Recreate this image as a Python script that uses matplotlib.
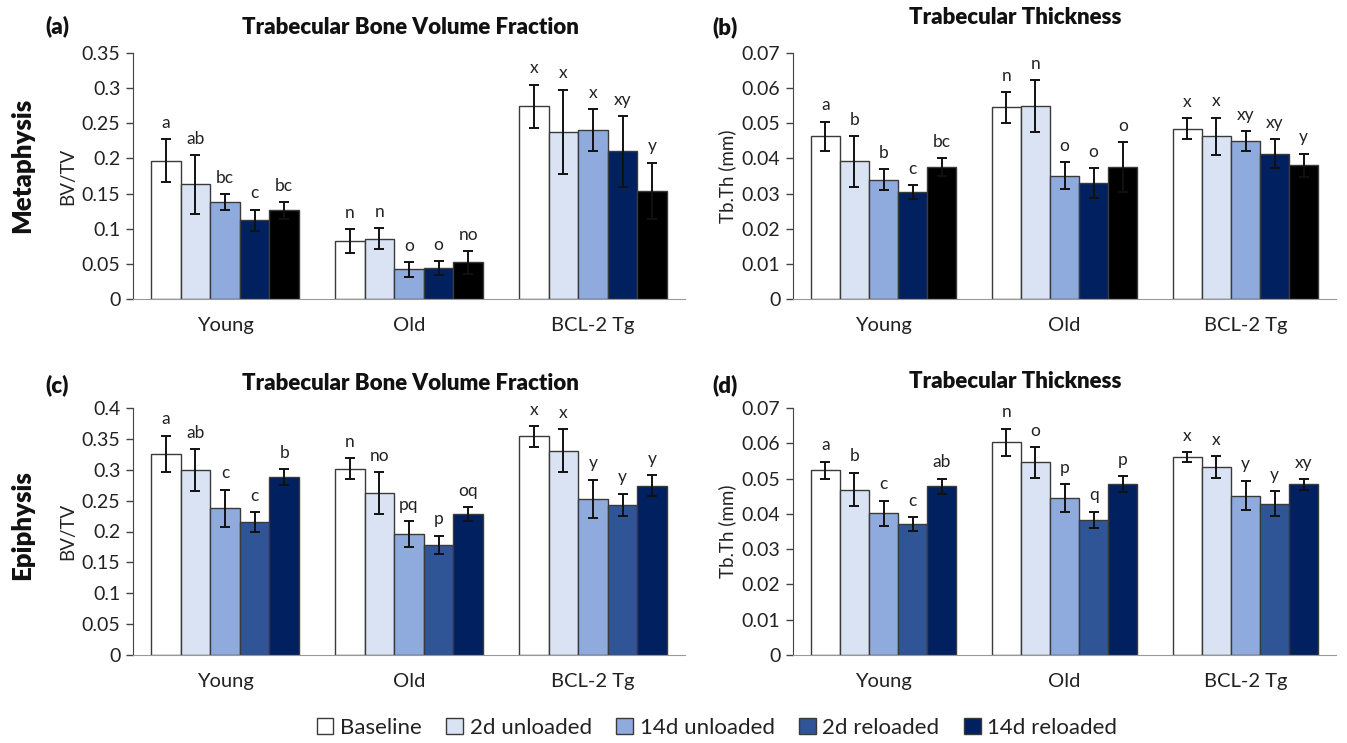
import matplotlib
matplotlib.use("Agg")
import matplotlib.pyplot as plt
from matplotlib.patches import Patch
import numpy as np

plt.rcParams['font.family'] = ['Lato', 'DejaVu Sans']

groups = ["Young", "Old", "BCL-2 Tg"]
series = ["Baseline", "2d unloaded", "14d unloaded", "2d reloaded", "14d reloaded"]

# (a) Metaphysis BV/TV
a_mean = [[0.197, 0.163, 0.138, 0.112, 0.126],
          [0.082, 0.086, 0.042, 0.044, 0.052],
          [0.274, 0.238, 0.240, 0.210, 0.154]]
a_err = [[0.030, 0.042, 0.011, 0.015, 0.012],
         [0.017, 0.015, 0.010, 0.010, 0.016],
         [0.031, 0.060, 0.030, 0.050, 0.040]]
a_lab = [["a", "ab", "bc", "c", "bc"],
         ["n", "n", "o", "o", "no"],
         ["x", "x", "x", "xy", "y"]]

# (b) Metaphysis Tb.Th
b_mean = [[0.0463, 0.0392, 0.0340, 0.0304, 0.0375],
          [0.0545, 0.0549, 0.0351, 0.0330, 0.0376],
          [0.0485, 0.0463, 0.0450, 0.0414, 0.0380]]
b_err = [[0.0042, 0.0072, 0.0029, 0.0020, 0.0026],
         [0.0044, 0.0074, 0.0038, 0.0043, 0.0071],
         [0.0030, 0.0053, 0.0028, 0.0040, 0.0034]]
b_lab = [["a", "b", "b", "c", "bc"],
         ["n", "n", "o", "o", "o"],
         ["x", "x", "xy", "xy", "y"]]

# (c) Epiphysis BV/TV
c_mean = [[0.326, 0.2995, 0.238, 0.215, 0.2876],
          [0.302, 0.262, 0.1957, 0.178, 0.2286],
          [0.354, 0.331, 0.253, 0.243, 0.274]]
c_err = [[0.029, 0.034, 0.030, 0.016, 0.013],
         [0.017, 0.034, 0.021, 0.015, 0.011],
         [0.017, 0.035, 0.031, 0.018, 0.017]]
c_lab = [["a", "ab", "c", "c", "b"],
         ["n", "no", "pq", "p", "oq"],
         ["x", "x", "y", "y", "y"]]

# (d) Epiphysis Tb.Th
d_mean = [[0.0523, 0.0469, 0.0402, 0.0371, 0.0478],
          [0.0603, 0.0546, 0.0444, 0.0383, 0.0484],
          [0.0560, 0.0532, 0.0452, 0.0429, 0.0484]]
d_err = [[0.0025, 0.0048, 0.0035, 0.0020, 0.0022],
         [0.0038, 0.0043, 0.0040, 0.0023, 0.0022],
         [0.0014, 0.0031, 0.0042, 0.0035, 0.0015]]
d_lab = [["a", "b", "c", "c", "ab"],
         ["n", "o", "p", "q", "p"],
         ["x", "x", "y", "y", "xy"]]

top_colors = ["#ffffff", "#dae3f3", "#8faadc", "#002060", "#000000"]
bot_colors = ["#ffffff", "#dae3f3", "#8faadc", "#2f5597", "#002060"]

W, H = 1347, 743
fig = plt.figure(figsize=(W / 100, H / 100), dpi=100)


def axrect(x0, x1, ytop, ybot):
    return [x0 / W, 1 - ybot / H, (x1 - x0) / W, (ybot - ytop) / H]


def panel(rect, mean, err, labs, colors, ymax, ystep, ylabel, title, tag, tagxy, titlexy, tickfmt):
    ax = fig.add_axes(rect)
    mean = np.array(mean)
    err = np.array(err)
    nb = len(series)
    bw = 0.161
    x = np.arange(len(groups))
    for j in range(nb):
        xs = x + (j - (nb - 1) / 2) * bw
        ax.bar(xs, mean[:, j], bw, color=colors[j], edgecolor="#3a3a3a", linewidth=1.0, zorder=2)
        ax.errorbar(xs, mean[:, j], yerr=err[:, j], fmt="none", ecolor="#111111",
                    elinewidth=1.4, capsize=3.5, capthick=1.4, zorder=3)
        for i in range(len(groups)):
            ax.annotate(labs[i][j], (xs[i], mean[i, j] + err[i, j]), xytext=(0, 6),
                        textcoords="offset points", ha="center", va="bottom",
                        fontsize=12.5, color="#222222")
    ax.set_xlim(-0.5, 2.5)
    ax.set_ylim(0, ymax)
    ticks = np.round(np.arange(0, ymax + ystep / 2, ystep), 4)
    ax.set_yticks(ticks)
    ax.set_yticklabels([tickfmt(t) for t in ticks], fontsize=14, color="#222222")
    ax.set_xticks(x)
    ax.set_xticklabels(groups, fontsize=14.5, color="#222222")
    ax.tick_params(axis="x", length=0, pad=13)
    ax.tick_params(axis="y", direction="out", length=5, width=1, color="#444444", pad=4)
    for s in ["top", "right"]:
        ax.spines[s].set_visible(False)
    ax.spines["left"].set_color("#444444")
    ax.spines["bottom"].set_color("#999999")
    ax.set_ylabel(ylabel, fontsize=13.5, color="#222222", labelpad=4)
    fig.text(titlexy[0] / W, 1 - titlexy[1] / H, title, fontsize=16, fontweight="heavy",
             ha="center", va="center", color="#111111")
    fig.text(tagxy[0] / W, 1 - tagxy[1] / H, tag, fontsize=16, fontweight="heavy",
             ha="center", va="center", color="#111111")
    return ax


def fmt(t):
    if t == 0:
        return "0"
    s = ("%.3f" % t).rstrip("0").rstrip(".")
    return s


panel(axrect(133, 685, 53, 299), a_mean, a_err, a_lab, top_colors, 0.35, 0.05, "BV/TV",
      "Trabecular Bone Volume Fraction", "(a)", (57, 26), (410, 27), fmt)
panel(axrect(793, 1336, 53, 299), b_mean, b_err, b_lab, top_colors, 0.07, 0.01, "Tb.Th (mm)",
      "Trabecular Thickness", "(b)", (725, 27), (1015, 18), fmt)
panel(axrect(133, 685, 408, 655), c_mean, c_err, c_lab, bot_colors, 0.4, 0.05, "BV/TV",
      "Trabecular Bone Volume Fraction", "(c)", (57, 385), (410, 383), fmt)
panel(axrect(793, 1336, 408, 655), d_mean, d_err, d_lab, bot_colors, 0.07, 0.01, "Tb.Th (mm)",
      "Trabecular Thickness", "(d)", (725, 385), (1015, 381), fmt)

fig.text(22 / W, 1 - 165 / H, "Metaphysis", rotation=90, fontsize=18.5, fontweight="heavy",
         ha="center", va="center", color="#111111")
fig.text(22 / W, 1 - 525 / H, "Epiphysis", rotation=90, fontsize=18.5, fontweight="heavy",
         ha="center", va="center", color="#111111")

handles = [Patch(facecolor=c, edgecolor="#3a3a3a", linewidth=1.0) for c in bot_colors]
fig.legend(handles, series, loc="center", bbox_to_anchor=(717 / W, 1 - 728 / H), ncol=5,
           frameon=False, fontsize=16, handlelength=0.75, handleheight=0.75,
           handletextpad=0.3, columnspacing=1.1, labelcolor="#222222")

fig.savefig("out.png", dpi=100)
